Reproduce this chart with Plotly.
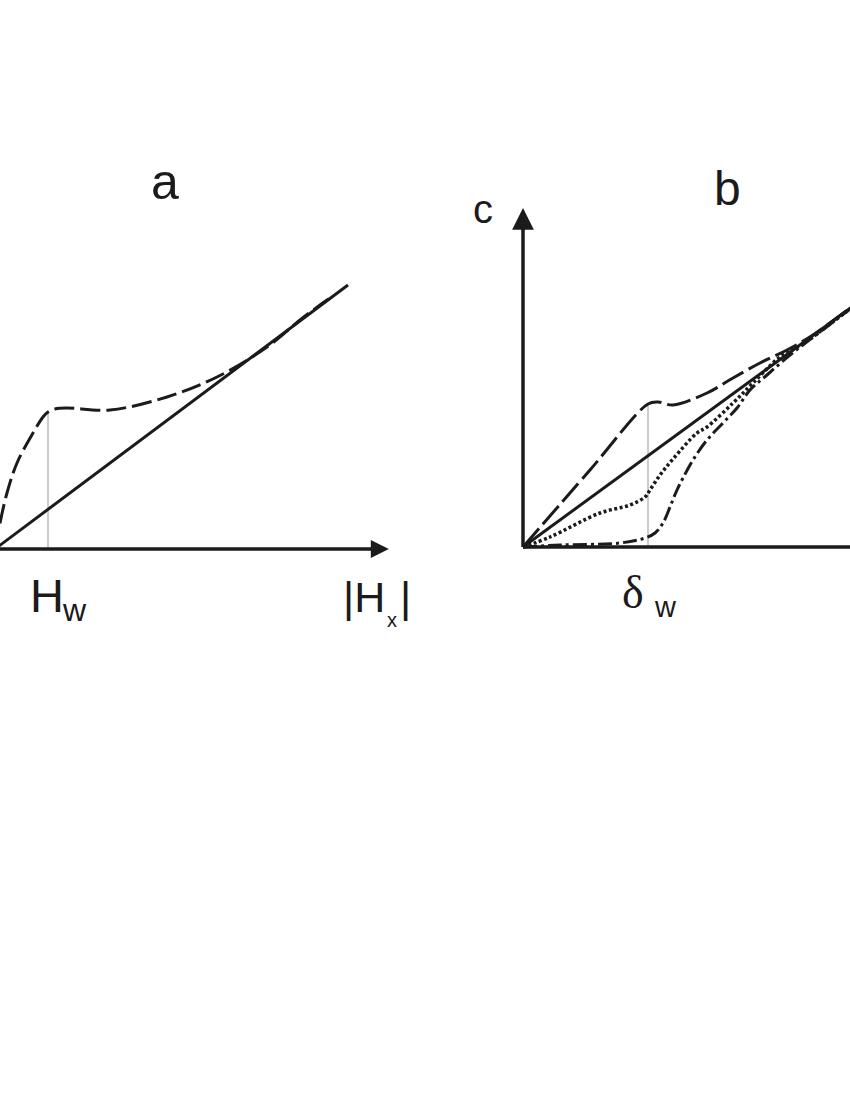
import plotly.graph_objects as go

# panel a: field in units of H_w, response in arbitrary units
a_line_x = [0.0, 6.66]
a_line_y = [0.0, 4.98]
a_dash_x = [0.0, 0.094, 0.226, 0.415, 0.717, 0.906, 1.0, 1.132, 1.358, 2.17, 3.245, 4.189, 5.132, 5.755, 6.132, 6.3]
a_dash_y = [0.0, 0.49, 1.057, 1.623, 2.189, 2.491, 2.585, 2.642, 2.66, 2.623, 2.868, 3.245, 3.811, 4.321, 4.604, 4.72]
a_hw = 1.0
a_hw_top = 2.585
a_axis_end = 7.43

# panel b: thickness in units of delta_w
b_line_x = [0.0, 2.8]
b_line_y = [0.0, 2.044]
b_dash_x = [0.0, 0.536, 1.0, 1.08, 1.2, 1.472, 1.68, 1.896, 2.112, 2.32, 2.616, 2.8]
b_dash_y = [0.0, 0.616, 1.144, 1.16, 1.136, 1.232, 1.352, 1.472, 1.576, 1.696, 1.912, 2.044]
b_dot_x = [0.0, 0.216, 0.616, 0.856, 0.976, 1.016, 1.096, 1.2, 1.392, 1.472, 1.68, 1.84, 2.056, 2.216, 2.616, 2.8]
b_dot_y = [0.0, 0.08, 0.272, 0.336, 0.4, 0.456, 0.576, 0.704, 0.912, 0.96, 1.152, 1.312, 1.52, 1.61, 1.905, 2.044]
b_dd_x = [0.0, 0.296, 0.776, 0.976, 1.056, 1.12, 1.176, 1.232, 1.28, 1.36, 1.472, 1.6, 1.712, 1.816, 1.952, 2.136, 2.376, 2.616, 2.8]
b_dd_y = [0.0, 0.016, 0.032, 0.072, 0.112, 0.192, 0.32, 0.456, 0.552, 0.696, 0.856, 0.992, 1.112, 1.256, 1.376, 1.536, 1.72, 1.904, 2.044]
b_dw = 1.0
b_dw_top = 1.144
b_axis_top = 2.712
b_axis_end = 2.9

ink = "#1c1a1b"
sans = "Liberation Sans"

fig = go.Figure()

def add(x, y, dash, xa, ya, width=3, color=ink, shape="spline"):
    fig.add_trace(go.Scatter(x=x, y=y, mode="lines", xaxis=xa, yaxis=ya,
                             line=dict(color=color, width=width, dash=dash, shape=shape),
                             hoverinfo="skip", showlegend=False))

# panel a
add([a_hw, a_hw], [0, a_hw_top], "solid", "x", "y", width=1, color="#9a9a9a", shape="linear")
add([0, a_axis_end - 0.2], [0, 0], "solid", "x", "y", width=3.5, shape="linear")
add(a_line_x, a_line_y, "solid", "x", "y", shape="linear")
add(a_dash_x, a_dash_y, "20px,6px", "x", "y")

# panel b
add([b_dw, b_dw], [0, b_dw_top], "solid", "x2", "y2", width=1, color="#9a9a9a", shape="linear")
add([0, b_axis_end], [0, 0], "solid", "x2", "y2", width=3.5, shape="linear")
add([0, 0], [0, b_axis_top - 0.1], "solid", "x2", "y2", width=3.5, shape="linear")
add(b_line_x, b_line_y, "solid", "x2", "y2", shape="linear")
add(b_dash_x, b_dash_y, "24px,6px", "x2", "y2")
add(b_dot_x, b_dot_y, "3px,2.5px", "x2", "y2", width=3.5)
add(b_dd_x, b_dd_y, "14px,4px,3px,4px", "x2", "y2")

ann = []
# arrow heads
ann.append(dict(x=a_axis_end, y=0, xref="x", yref="y", ax=-20, ay=0, text="",
                showarrow=True, arrowhead=2, arrowsize=1.2, arrowwidth=3, arrowcolor=ink))
ann.append(dict(x=0, y=b_axis_top, xref="x2", yref="y2", ax=0, ay=24, text="",
                showarrow=True, arrowhead=2, arrowsize=1.45, arrowwidth=3, arrowcolor=ink))

def label(text, x, y, xr, yr, size, family=sans):
    ann.append(dict(x=x, y=y, xref=xr, yref=yr, text=text, showarrow=False,
                    xanchor="center", yanchor="middle",
                    font=dict(family=family, size=size, color=ink)))

label("a", 3.208, 6.93, "x", "y", 50)
label("H", 0.99, -0.868, "x", "y", 47)
label("w", 1.509, -1.16, "x", "y", 32)
label("|H", 6.962, -0.915, "x", "y", 43)
label("x", 7.49, -1.34, "x", "y", 20)
label("|", 7.736, -0.915, "x", "y", 43)

label("b", 1.636, 2.872, "x2", "y2", 48)
label("c", -0.324, 2.704, "x2", "y2", 40)
label("δ", 0.88, -0.36, "x2", "y2", 46, family="Liberation Serif")
label("w", 1.136, -0.48, "x2", "y2", 29)

hidden = dict(visible=False, showgrid=False, zeroline=False, fixedrange=True)
fig.update_layout(
    width=850, height=1100,
    margin=dict(l=0, r=0, t=0, b=0),
    paper_bgcolor="white", plot_bgcolor="white",
    xaxis=dict(domain=[0, 0.5], range=[0.0943, 8.113], **hidden),
    yaxis=dict(domain=[0, 1], range=[-10.396, 10.358], anchor="x", **hidden),
    xaxis2=dict(domain=[0.5, 1], range=[-0.784, 2.616], anchor="y2", **hidden),
    yaxis2=dict(domain=[0, 1], range=[-4.424, 4.376], anchor="x2", **hidden),
    annotations=ann,
)

fig.write_html("out.html", config={"displayModeBar": False},
               post_script="document.body.style.margin='0';")
